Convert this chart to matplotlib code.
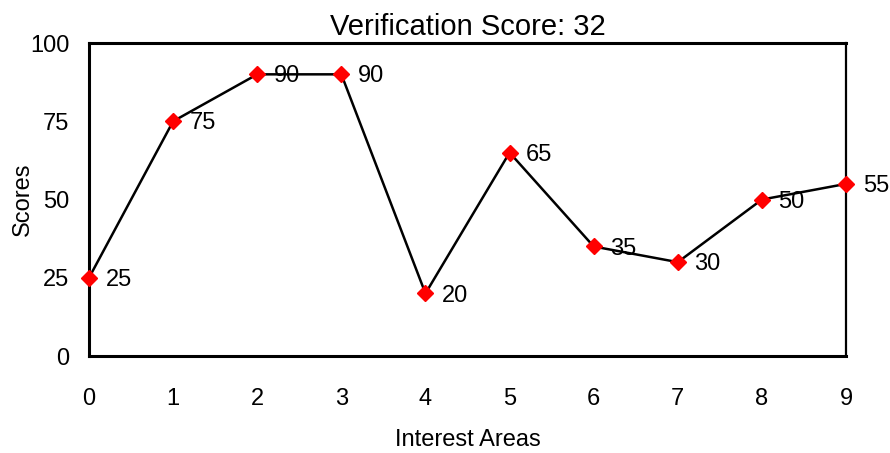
import matplotlib
matplotlib.use("Agg")
import matplotlib.pyplot as plt

# data
areas = [0, 1, 2, 3, 4, 5, 6, 7, 8, 9]
scores = [25, 75, 90, 90, 20, 65, 35, 30, 50, 55]
y_ticks = [0, 25, 50, 75, 100]

plt.rcParams["font.family"] = ["Liberation Sans", "DejaVu Sans"]

fig = plt.figure(figsize=(8.9, 4.53), dpi=100)
ax = fig.add_axes([0.1, 0.214, 0.8506, 0.691])

ax.plot(areas, scores, color="black", lw=1.8, marker="D", ms=8,
        mfc="red", mec="red", clip_on=False, zorder=3)
for x, y in zip(areas, scores):
    ax.annotate(str(y), (x, y), xytext=(12, -1.5), textcoords="offset points",
                va="center", ha="left", fontsize=17)

ax.set_xlim(0, 9)
ax.set_ylim(0, 100)
ax.set_xticks(areas)
ax.set_yticks(y_ticks)
ax.tick_params(length=0, labelsize=17)
ax.tick_params(axis="x", pad=23)
ax.tick_params(axis="y", pad=14)

for side in ["left", "bottom", "top"]:
    ax.spines[side].set_linewidth(2.2)
ax.spines["right"].set_linewidth(1.6)

ax.set_title("Verification Score: 32", fontsize=21, pad=6)
ax.set_xlabel("Interest Areas", fontsize=17, labelpad=14)
ax.set_ylabel("Scores", fontsize=17, labelpad=-3)

fig.savefig("out.png", dpi=100)
